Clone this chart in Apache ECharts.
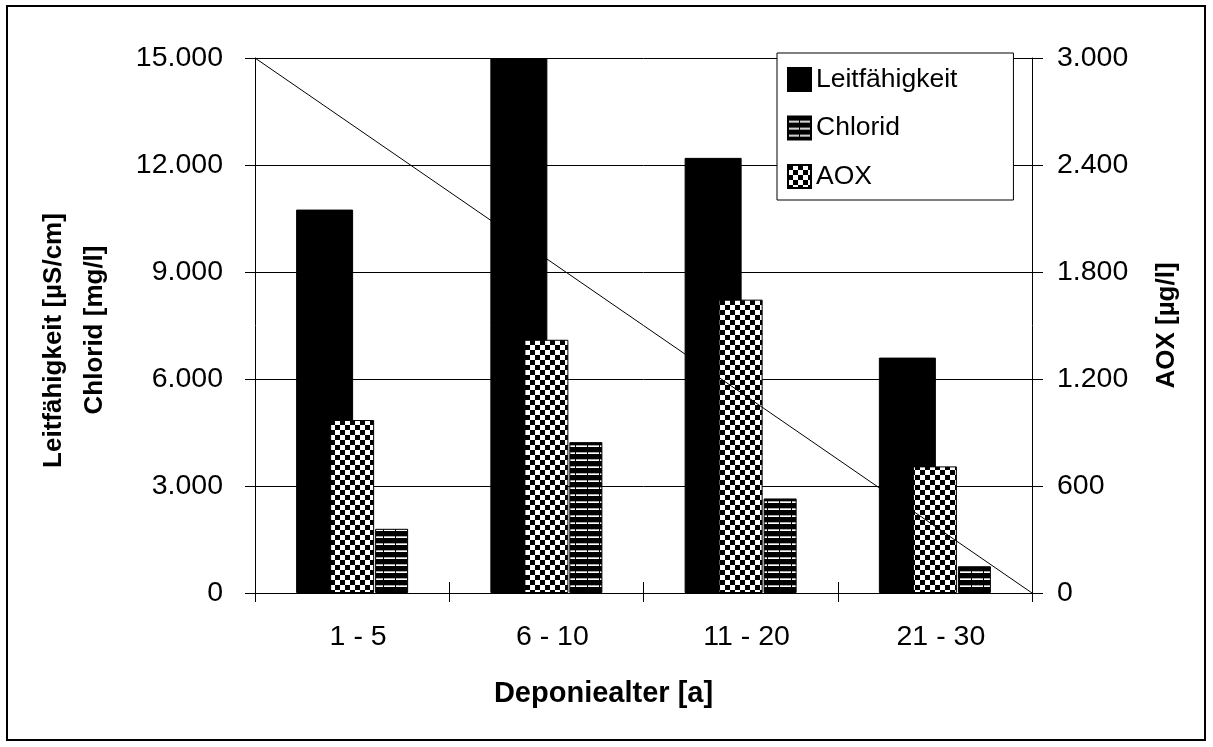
<!DOCTYPE html>
<html>
<head>
<meta charset="utf-8">
<script src="https://cdn.jsdelivr.net/npm/echarts@6/dist/echarts.min.js"></script>
<style>
  html, body { margin: 0; padding: 0; background: #fff; }
  #chart { width: 1213px; height: 747px; }
</style>
</head>
<body>
<div id="chart"></div>
<script>
// Landfill leachate by landfill age
const categories = ['1 - 5', '6 - 10', '11 - 20', '21 - 30'];
const leitfaehigkeit = [10750, 15000, 12200, 6600];   // µS/cm
const chlorid = [1800, 4230, 2650, 750];              // mg/l
const aox = [970, 1420, 1645, 710];                   // µg/l
const leftAxisTicks = { min: 0, max: 15000, interval: 3000 };
const rightAxisTicks = { min: 0, max: 3000, interval: 600 };
// reference diagonal across the plot: [fraction of width, left-axis value]
const diagonal = [[0, 15000], [1, 0]];

const FONT = "'Liberation Sans', Arial, sans-serif";

// German thousands separator: 15000 -> "15.000"
function fmt(v) {
  return String(v).replace(/\B(?=(\d{3})+(?!\d))/g, '.');
}

function checkerPattern() {
  const c = document.createElement('canvas');
  c.width = 10; c.height = 10;
  const g = c.getContext('2d');
  g.fillStyle = '#fff'; g.fillRect(0, 0, 10, 10);
  g.fillStyle = '#000';
  g.fillRect(0, 0, 5, 5);
  g.fillRect(5, 5, 5, 5);
  return c;
}

function stripePattern() {
  const c = document.createElement('canvas');
  c.width = 12; c.height = 7;
  const g = c.getContext('2d');
  g.fillStyle = '#000'; g.fillRect(0, 0, 12, 7);
  g.fillStyle = '#aaa'; g.fillRect(0, 4, 11, 1);
  g.fillStyle = '#fff'; g.fillRect(0, 5, 11, 1);
  return c;
}

const chart = echarts.init(document.getElementById('chart'), null, { renderer: 'canvas' });

const axisLineStyle = { color: '#000', width: 1 };

chart.setOption({
  animation: false,
  backgroundColor: '#fff',
  textStyle: { fontFamily: FONT, color: '#000' },
  graphic: [{
    type: 'rect',
    shape: { x: 7, y: 6, width: 1198, height: 734 },
    style: { fill: 'none', stroke: '#000', lineWidth: 2 },
    silent: true
  }],
  grid: { left: 255, right: 181, top: 58, bottom: 154 },
  legend: {
    data: ['Leitfähigkeit', 'Chlorid', 'AOX'],
    orient: 'vertical',
    left: 777,
    top: 53,
    padding: [13, 56, 10, 10],
    itemWidth: 23,
    itemHeight: 23,
    itemGap: 21.5,
    icon: 'rect',
    backgroundColor: '#fff',
    borderColor: '#000',
    borderWidth: 1,
    selectedMode: false,
    textStyle: { fontFamily: FONT, fontSize: 26.5, color: '#000' }
  },
  xAxis: [
    {
      type: 'category',
      data: categories,
      position: 'bottom',
      axisLine: { lineStyle: axisLineStyle },
      axisTick: { show: true, length: 9, lineStyle: axisLineStyle },
      axisLabel: { fontFamily: FONT, fontSize: 28.5, color: '#000', margin: 30, padding: [0, 0, 0, 12] },
      name: 'Deponiealter [a]',
      nameLocation: 'middle',
      nameGap: 86,
      nameTextStyle: { fontFamily: FONT, fontSize: 29, fontWeight: 'bold', color: '#000', padding: [0, 80, 0, 0] }
    },
    {
      type: 'category',
      data: categories,
      position: 'bottom',
      axisLine: { show: false },
      axisTick: { show: true, inside: true, length: 11, lineStyle: axisLineStyle },
      axisLabel: { show: false }
    },
    { type: 'value', min: 0, max: 1, show: false }
  ],
  yAxis: [
    {
      type: 'value',
      position: 'left',
      min: leftAxisTicks.min, max: leftAxisTicks.max, interval: leftAxisTicks.interval,
      axisLine: { show: true, lineStyle: axisLineStyle },
      axisTick: { show: true, length: 10, lineStyle: axisLineStyle },
      splitLine: { show: true, lineStyle: { color: '#000', width: 1 } },
      axisLabel: { formatter: fmt, fontFamily: FONT, fontSize: 28.5, color: '#000', margin: 32 },
      name: '{a|Leitfähigkeit [µS/cm]}\n{b|Chlorid [mg/l]}',
      nameLocation: 'middle',
      nameRotate: 90,
      nameGap: 139.5,
      nameTextStyle: {
        fontFamily: FONT, fontSize: 26, fontWeight: 'bold', color: '#000', lineHeight: 41,
        rich: {
          a: { fontFamily: FONT, fontSize: 26, fontWeight: 'bold', lineHeight: 41, padding: [0, 30, 0, 0] },
          b: { fontFamily: FONT, fontSize: 26, fontWeight: 'bold', lineHeight: 41, padding: [0, 9, 0, 0] }
        }
      }
    },
    {
      type: 'value',
      position: 'right',
      min: rightAxisTicks.min, max: rightAxisTicks.max, interval: rightAxisTicks.interval,
      axisLine: { show: true, lineStyle: axisLineStyle },
      axisTick: { show: true, length: 11, lineStyle: axisLineStyle },
      splitLine: { show: false },
      axisLabel: { formatter: fmt, fontFamily: FONT, fontSize: 28.5, color: '#000', margin: 25 },
      name: 'AOX [µg/l]',
      nameLocation: 'middle',
      nameRotate: 90,
      nameGap: 120,
      nameTextStyle: { fontFamily: FONT, fontSize: 26, fontWeight: 'bold', color: '#000', lineHeight: 30 }
    }
  ],
  series: [
    {
      type: 'line',
      xAxisIndex: 2,
      yAxisIndex: 0,
      data: diagonal,
      symbol: 'none',
      silent: true,
      lineStyle: { color: '#000', width: 1 }
    },
    {
      name: 'Leitfähigkeit',
      type: 'bar',
      xAxisIndex: 0,
      yAxisIndex: 0,
      data: leitfaehigkeit,
      barWidth: 57,
      barGap: '38.6%',
      itemStyle: { color: '#000', borderColor: '#000', borderWidth: 1 }
    },
    {
      name: 'Chlorid',
      type: 'bar',
      xAxisIndex: 0,
      yAxisIndex: 0,
      data: chlorid,
      barWidth: 33,
      barGap: '38.6%',
      itemStyle: { color: { image: stripePattern(), repeat: 'repeat' }, borderColor: '#000', borderWidth: 1 }
    },
    {
      name: 'AOX',
      type: 'bar',
      xAxisIndex: 1,
      yAxisIndex: 1,
      data: aox,
      barWidth: 44,
      itemStyle: { color: { image: checkerPattern(), repeat: 'repeat' }, borderColor: '#000', borderWidth: 1 }
    }
  ]
});
</script>
</body>
</html>
